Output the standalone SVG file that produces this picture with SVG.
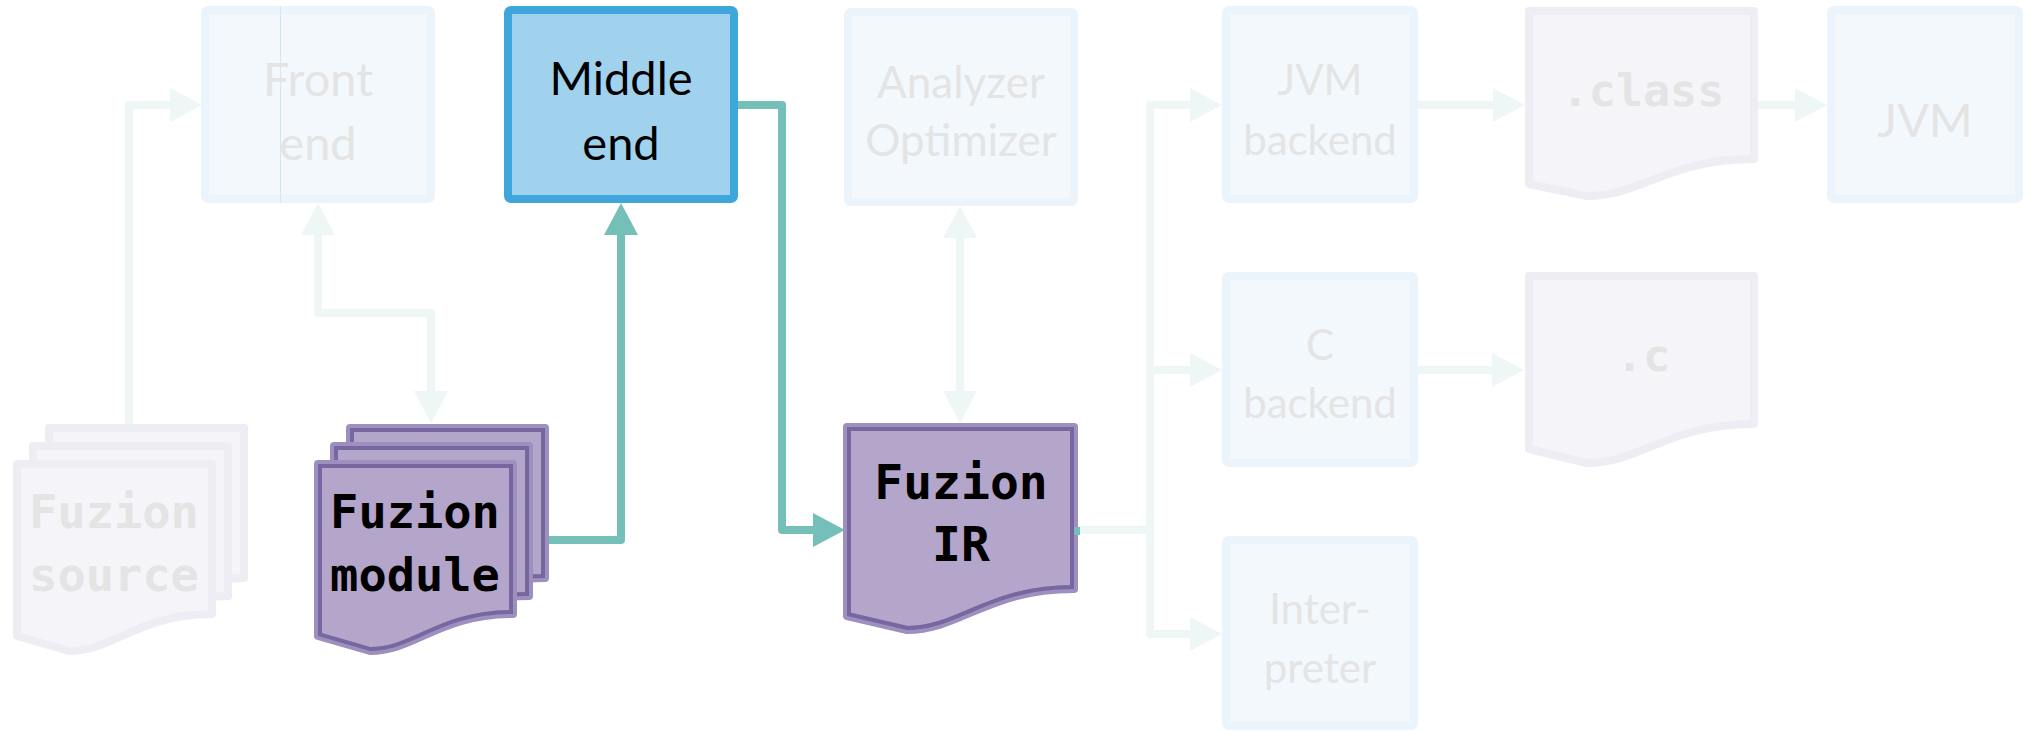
<svg xmlns="http://www.w3.org/2000/svg" xmlns:xlink="http://www.w3.org/1999/xlink" width="2032" height="732" viewBox="0 0 2032 732">
<style>
.lbox{fill:#f3f8fc;stroke:#ebf4fb;stroke-width:8}
.ldoc{fill:#f5f4f9;stroke:#eeedf3;stroke-width:8;stroke-linejoin:round}
.pdoc{fill:#b4a5cb;stroke:#9d8fbe;stroke-width:8;stroke-linejoin:round}
.pin{fill:none;stroke:#77669f;stroke-width:8;stroke-linejoin:round}
.lt{font-family:Lato,"Liberation Sans",sans-serif;fill:#e4e4e4;text-anchor:middle}
.bt{font-family:Lato,"Liberation Sans",sans-serif;fill:#000;text-anchor:middle}
.mono{font-family:"DejaVu Sans Mono","Liberation Mono",monospace;font-weight:bold;text-anchor:middle}
.lc{fill:none;stroke:#eef7f5;stroke-width:8;stroke-linejoin:round}
.tc{fill:none;stroke:#74bfb7;stroke-width:8;stroke-linejoin:round}
</style>
<defs>
<marker id="al" viewBox="0 0 32 34" markerUnits="userSpaceOnUse" markerWidth="32" markerHeight="34" refX="0" refY="17" orient="auto-start-reverse"><path d="M0,0 L32,17 L0,34 Z" fill="#eef7f5"/></marker>
<marker id="at" viewBox="0 0 32 34" markerUnits="userSpaceOnUse" markerWidth="32" markerHeight="34" refX="0" refY="17" orient="auto-start-reverse"><path d="M0,0 L32,17 L0,34 Z" fill="#74bfb7"/></marker>
<path id="mB" d="M350,428 H545 V578 C471,578 447,615 402,615 L350,600 Z"/>
<path id="mM" d="M334,446 H529 V596 C455,596 431,633 386,633 L334,618 Z"/>
<path id="mF" d="M318,464 H513 V614 C439,614 415,651 370,651 L318,636 Z"/>
<path id="ir" d="M847,427 H1074 V589 C988,589 960,630 907,630 L847,616 Z"/>
<clipPath id="cmB"><use xlink:href="#mB"/></clipPath>
<clipPath id="cmM"><use xlink:href="#mM"/></clipPath>
<clipPath id="cmF"><use xlink:href="#mF"/></clipPath>
<clipPath id="cir"><use xlink:href="#ir"/></clipPath>
</defs>
<rect width="2032" height="732" fill="#ffffff"/>
<g id="connectors">
<path class="lc" d="M129,428 V105 H170" marker-end="url(#al)"/>
<path class="lc" d="M318,235 V313 H431 V391" marker-start="url(#al)" marker-end="url(#al)"/>
<path class="lc" d="M960,238 V391" marker-start="url(#al)" marker-end="url(#al)"/>
<path class="lc" d="M1076,530 H1150"/>
<path class="lc" d="M1190,105 H1150 V634 H1190" marker-start="url(#al)" marker-end="url(#al)"/>
<path class="lc" d="M1150,370 H1190" marker-end="url(#al)"/>
<path class="lc" d="M1416,105 H1493" marker-end="url(#al)"/>
<path class="lc" d="M1756,105 H1795" marker-end="url(#al)"/>
<path class="lc" d="M1416,370 H1492" marker-end="url(#al)"/>
<path class="tc" d="M545,540 H621 V235" marker-end="url(#at)"/>
<path class="tc" d="M736,105 H782 V530 H813" marker-end="url(#at)"/>
</g>
<g id="fuzion-source">
<path class="ldoc" d="M49,428 H244 V578 C170,578 146,615 101,615 L49,600 Z"/>
<path class="ldoc" d="M33,446 H228 V596 C154,596 130,633 85,633 L33,618 Z"/>
<path class="ldoc" d="M17,464 H212 V614 C138,614 114,651 69,651 L17,636 Z"/>
<text class="mono" x="114" y="528" font-size="47" fill="#e4e4e4">Fuzion</text>
<text class="mono" x="114" y="591" font-size="47" fill="#e4e4e4">source</text>
</g>
<g id="front-end">
<rect class="lbox" x="205" y="10" width="226" height="189" rx="3"/>
<line x1="280.5" y1="6" x2="280.5" y2="203" stroke="#d2e7f6" stroke-width="1"/>
<text class="lt" x="318" y="96" font-size="47">Front</text>
<text class="lt" x="318" y="160" font-size="47">end</text>
</g>
<g id="middle-end">
<rect x="508" y="10" width="226" height="189" rx="3" fill="#a0d2ee" stroke="#3fa6db" stroke-width="8"/>
<text class="bt" x="621" y="95" font-size="47">Middle</text>
<text class="bt" x="621" y="160" font-size="47">end</text>
</g>
<g id="fuzion-module">
<use xlink:href="#mB" class="pdoc"/><use xlink:href="#mB" class="pin" clip-path="url(#cmB)"/>
<use xlink:href="#mM" class="pdoc"/><use xlink:href="#mM" class="pin" clip-path="url(#cmM)"/>
<use xlink:href="#mF" class="pdoc"/><use xlink:href="#mF" class="pin" clip-path="url(#cmF)"/>
<text class="mono" x="415" y="528" font-size="47" fill="#000">Fuzion</text>
<text class="mono" x="415" y="591" font-size="47" fill="#000">module</text>
</g>
<g id="analyzer-optimizer">
<rect class="lbox" x="848" y="12" width="226" height="190" rx="3"/>
<text class="lt" x="961" y="98" font-size="44">Analyzer</text>
<text class="lt" x="961" y="156" font-size="44">Optimizer</text>
</g>
<g id="fuzion-ir">
<use xlink:href="#ir" class="pdoc"/><use xlink:href="#ir" class="pin" clip-path="url(#cir)"/>
<rect x="1074" y="527" width="6" height="8" fill="#74bfb7"/>
<text class="mono" x="961" y="499" font-size="48" fill="#000">Fuzion</text>
<text class="mono" x="961" y="561" font-size="48" fill="#000">IR</text>
</g>
<g id="jvm-backend">
<rect class="lbox" x="1226" y="10" width="188" height="189" rx="3"/>
<text class="lt" x="1320" y="95" font-size="42">JVM</text>
<text class="lt" x="1320" y="155" font-size="42">backend</text>
</g>
<g id="c-backend">
<rect class="lbox" x="1226" y="276" width="188" height="187" rx="3"/>
<text class="lt" x="1320" y="360" font-size="42">C</text>
<text class="lt" x="1320" y="418" font-size="42">backend</text>
</g>
<g id="interpreter">
<rect class="lbox" x="1226" y="540" width="188" height="186" rx="3"/>
<text class="lt" x="1320" y="624" font-size="42">Inter-</text>
<text class="lt" x="1320" y="683" font-size="42">preter</text>
</g>
<g id="class-file">
<path class="ldoc" d="M1529,11 H1754 V159 C1668,159 1641,196 1587,196 L1529,184 Z"/>
<text class="mono" x="1643" y="106" font-size="45" fill="#e4e4e4">.class</text>
</g>
<g id="c-file">
<path class="ldoc" d="M1529,276 H1754 V424 C1668,424 1641,463 1587,463 L1529,449 Z"/>
<text class="mono" x="1643" y="371" font-size="45" fill="#e4e4e4">.c</text>
</g>
<g id="jvm">
<rect class="lbox" x="1831" y="10" width="188" height="189" rx="3"/>
<text class="lt" x="1925" y="137" font-size="47">JVM</text>
</g>
</svg>
